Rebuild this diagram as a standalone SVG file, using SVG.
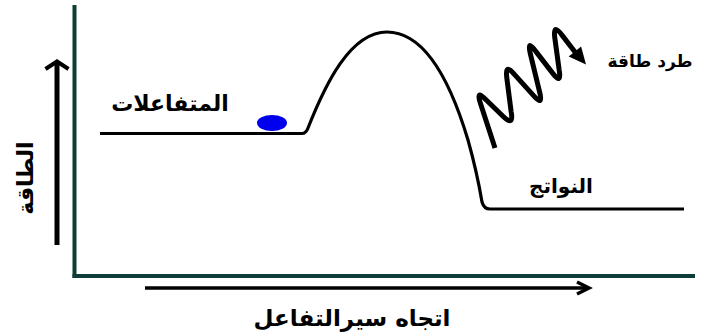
<svg xmlns="http://www.w3.org/2000/svg" width="708" height="336" viewBox="0 0 708 336">
<style>
.lbl{font-family:"DejaVu Sans",sans-serif;font-weight:bold;fill:#000;text-anchor:middle}
.axis{stroke:#0e3c37;stroke-width:4;fill:none}
.arr{stroke:#000;fill:none;stroke-linecap:butt;stroke-linejoin:miter}
</style>
<rect width="708" height="336" fill="#fff"/>
<g id="axes">
<line class="axis" x1="74.5" y1="5" x2="74.5" y2="278"/>
<line class="axis" x1="72.5" y1="276" x2="695" y2="276"/>
</g>
<g id="connectors">
<g id="energy-arrow">
<line class="arr" x1="57" y1="245" x2="57" y2="63" stroke-width="5"/>
<polyline class="arr" points="45.5,69 57,61.5 68.5,69" stroke-width="4"/>
</g>
<g id="progress-arrow">
<line class="arr" x1="145" y1="288" x2="588" y2="288" stroke-width="3.5"/>
<polyline class="arr" points="577,282 589,288 577,294" stroke-width="3.5"/>
</g>
<g id="energy-curve">
<path d="M100,133.5 L302,133.5 Q306,133.5 308,128 C325,85 350,32 387,32 C425,32 450,80 468,140 C475,165 480,190 482,202 Q484,209 490,209 L684,209" fill="none" stroke="#000" stroke-width="3.2"/>
</g>
<g id="release-wave">
<path d="M495,148 L480.4,103.3 Q475.5,88.5 486,99.8 L503,116.2 Q514,127 511.2,112.1 L506.8,77.9 Q504.8,62.5 514.4,74.4 L533.6,95.6 Q543.5,107 539.7,92.4 L530.3,53.6 Q526.6,38.5 535.6,51.1 L552.4,72.9 Q561.8,85.5 559.2,70.1 L554.8,37.9 Q552.8,22.5 561.8,34.9 L575,52" fill="none" stroke="#000" stroke-width="5" stroke-linejoin="round"/>
<polygon points="568.7,56.6 581.1,46.6 586,64.5" fill="#000"/>
</g>
</g>
<g id="reactant-particle">
<ellipse cx="272" cy="123" rx="15" ry="8" fill="#0000ee"/>
</g>
<g id="label-reactants">
<text class="lbl" x="170" y="111" font-size="22">المتفاعلات</text>
</g>
<g id="label-products">
<text class="lbl" x="561" y="193" font-size="20">النواتج</text>
</g>
<g id="label-release">
<text class="lbl" x="650" y="67" font-size="17">طرد طاقة</text>
</g>
<g id="label-progress">
<text class="lbl" x="352" y="326" font-size="23">اتجاه سيرالتفاعل</text>
</g>
<g id="label-energy">
<text class="lbl" transform="translate(33,178) rotate(-90)" x="0" y="0" font-size="22">الطاقة</text>
</g>
</svg>
